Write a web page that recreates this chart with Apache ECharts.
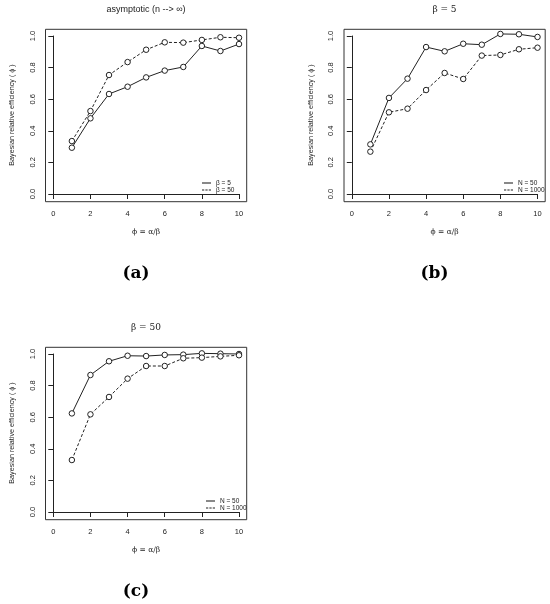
<!DOCTYPE html>
<html>
<head>
<meta charset="utf-8">
<script src="https://cdn.jsdelivr.net/npm/echarts@6/dist/echarts.min.js"></script>
<style>
html, body { margin: 0; padding: 0; background: #fff; }
#chart { width: 550px; height: 604px; }
</style>
</head>
<body>
<div id="chart"></div>
<script>
// phi = alpha / beta
const ratio = [1, 2, 3, 4, 5, 6, 7, 8, 9, 10];

// (a) asymptotic
const asymBeta5  = [0.293, 0.479, 0.633, 0.679, 0.738, 0.781, 0.804, 0.937, 0.905, 0.949];
const asymBeta50 = [0.335, 0.525, 0.753, 0.835, 0.913, 0.960, 0.958, 0.975, 0.992, 0.989];
// (b) beta = 5
const beta5N50   = [0.314, 0.608, 0.730, 0.930, 0.903, 0.951, 0.945, 1.013, 1.011, 0.994];
const beta5N1000 = [0.268, 0.517, 0.540, 0.658, 0.766, 0.728, 0.876, 0.880, 0.916, 0.926];
// (c) beta = 50
const beta50N50   = [0.624, 0.867, 0.954, 0.989, 0.987, 0.994, 0.996, 1.004, 1.002, 1.000];
const beta50N1000 = [0.329, 0.618, 0.728, 0.844, 0.924, 0.924, 0.973, 0.977, 0.985, 0.992];

const panels = [
    { title: 'asymptotic (n --> ∞)', titleFont: 'Liberation Sans', tag: '(a)', dx: 0, dy: 0,
      names: ['β = 5', 'β = 50'], values: [asymBeta5, asymBeta50], legendLeft: 197 },
    { title: 'β = 5', titleFont: 'DejaVu Serif', tag: '(b)', dx: 298.5, dy: 0,
      names: ['N = 50', 'N = 1000'], values: [beta5N50, beta5N1000], legendLeft: 499 },
    { title: 'β = 50', titleFont: 'DejaVu Serif', tag: '(c)', dx: 0, dy: 318,
      names: ['N = 50', 'N = 1000'], values: [beta50N50, beta50N1000], legendLeft: 201 }
];

const ink = '#222';
const solidIcon = 'path://M0,0H10V1.2H0Z';
const dashIcon = 'path://M0,0H2.5V1.2H0Z M3.75,0H6.25V1.2H3.75Z M7.5,0H10V1.2H7.5Z';

const grid = [], xAxis = [], yAxis = [], series = [], legend = [], graphic = [];

panels.forEach((p, i) => {
    // data area (0..10, 0..1)
    grid.push({ left: 53.3 + p.dx, top: 36 + p.dy, width: 185.7, height: 158, outerBoundsMode: 'none', containLabel: false });
    xAxis.push({
        gridIndex: i, type: 'value', min: 0, max: 10, interval: 2, offset: 7.7,
        name: 'ϕ = α/β', nameLocation: 'middle', nameGap: 26,
        nameTextStyle: { fontFamily: 'DejaVu Serif', fontSize: 7.5, color: ink },
        axisLine: { show: true, lineStyle: { color: ink, width: 1 } },
        axisTick: { show: true, length: 5, lineStyle: { color: ink } },
        axisLabel: { fontFamily: 'Liberation Sans', fontSize: 7.5, color: ink, margin: 8.5 },
        splitLine: { show: false }
    });
    yAxis.push({
        gridIndex: i, type: 'value', min: 0, max: 1, interval: 0.2, offset: 7.8,
        name: 'Bayesian relative efficiency ( ϕ )', nameLocation: 'middle', nameGap: 29.5, nameRotate: 90,
        nameTextStyle: { fontFamily: 'Liberation Sans', fontSize: 7.2, color: ink },
        axisLine: { show: true, lineStyle: { color: ink, width: 1 } },
        axisTick: { show: true, length: 5, lineStyle: { color: ink } },
        axisLabel: { fontFamily: 'Liberation Sans', fontSize: 7.5, color: ink, margin: 9, rotate: 90,
                     formatter: v => v.toFixed(1) },
        splitLine: { show: false }
    });
    p.values.forEach((vals, k) => {
        series.push({
            name: p.names[k], type: 'line', xAxisIndex: i, yAxisIndex: i,
            data: ratio.map((x, j) => [x, vals[j]]),
            symbol: 'circle', symbolSize: 5.5, clip: false,
            itemStyle: { color: '#fff', borderColor: ink, borderWidth: 1 },
            lineStyle: { color: ink, width: 1, type: k === 0 ? 'solid' : [3, 2] }
        });
    });
    legend.push({
        orient: 'vertical', left: p.legendLeft, top: 174.5 + p.dy, itemGap: 0,
        itemWidth: 9, itemHeight: 1.2, selectedMode: false,
        itemStyle: { color: ink, borderWidth: 0 },
        textStyle: { fontFamily: 'Liberation Sans', fontSize: 6.5, color: ink },
        data: [{ name: p.names[0], icon: solidIcon }, { name: p.names[1], icon: dashIcon }]
    });
    graphic.push({
        type: 'text', x: 146 + p.dx, y: 9.5 + p.dy,
        style: { text: p.title, textAlign: 'center', textVerticalAlign: 'middle',
                 font: '9px "' + p.titleFont + '"', fill: ink }
    });
    graphic.push({
        type: 'text', x: 136 + p.dx, y: 274 + p.dy,
        style: { text: p.tag, textAlign: 'center', textVerticalAlign: 'middle',
                 font: 'bold 17px "DejaVu Serif"', fill: '#000' }
    });
});

// frame boxes around each plot
panels.forEach(p => {
    grid.push({ left: 45.5 + p.dx, top: 29.3 + p.dy, width: 201.2, height: 172.4,
                show: true, borderColor: '#333', borderWidth: 1, backgroundColor: 'transparent',
                outerBoundsMode: 'none', containLabel: false });
});

const chart = echarts.init(document.getElementById('chart'));
chart.setOption({
    animation: false,
    backgroundColor: '#fff',
    grid, xAxis, yAxis, series, legend, graphic
});
</script>
</body>
</html>
